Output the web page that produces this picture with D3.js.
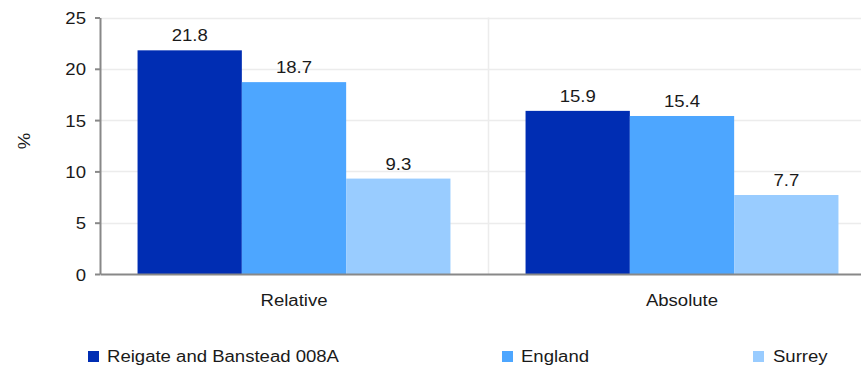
<!DOCTYPE html>
<html>
<head>
<meta charset="utf-8">
<script src="https://cdn.jsdelivr.net/npm/d3@7/dist/d3.min.js"></script>
<style>
  html, body { margin: 0; padding: 0; background: #fff; }
  svg { display: block; }
  text { font-family: "Liberation Sans", Arial, sans-serif; fill: #1a1a1a; }
</style>
</head>
<body>
<svg id="chart" width="861" height="365"></svg>
<script>
const categories = ["Relative", "Absolute"];
const seriesNames = ["Reigate and Banstead 008A", "England", "Surrey"];
const reigateValues = [21.8, 15.9];
const englandValues = [18.7, 15.4];
const surreyValues = [9.3, 7.7];
const yTickValues = [0, 5, 10, 15, 20, 25];
const seriesValues = [reigateValues, englandValues, surreyValues];
const colors = ["#002db3", "#4da6ff", "#99ccff"];

(function () {
const W = 861, H = 365;
const SX = 1.16; // horizontal text stretch
const FS = 16;
const svg = d3.select("#chart");

const mLeft = 100, mRight = 876, mTop = 17.5, mBottom = 274;

const x0 = d3.scaleBand().domain(categories).range([mLeft, mRight]).paddingInner(0).paddingOuter(0);
const x1 = d3.scaleBand().domain(seriesNames).range([0, x0.bandwidth()]).paddingInner(0).paddingOuter(0.36);
const y = d3.scaleLinear().domain([0, 25]).range([mBottom, mTop]);
const color = d3.scaleOrdinal().domain(seriesNames).range(colors);

function stext(g, x, yy, str, anchor) {
  return g.append("text")
    .attr("transform", `translate(${x},${yy}) scale(${SX},1)`)
    .attr("text-anchor", anchor || "middle")
    .style("font-size", FS + "px")
    .text(str);
}

// horizontal gridlines
svg.append("g").selectAll("line").data(yTickValues.filter(d => d > 0)).join("line")
  .attr("x1", mLeft).attr("x2", W)
  .attr("y1", d => Math.round(y(d)) + 0.5).attr("y2", d => Math.round(y(d)) + 0.5)
  .attr("stroke", "#ececec").attr("stroke-width", 1.5);

// vertical separators between categories
svg.append("g").selectAll("line").data(categories.slice(1)).join("line")
  .attr("x1", d => x0(d) + 0.5).attr("x2", d => x0(d) + 0.5)
  .attr("y1", mTop).attr("y2", mBottom)
  .attr("stroke", "#ececec").attr("stroke-width", 1.5);

// bars
const groups = svg.append("g").selectAll("g").data(categories).join("g")
  .attr("transform", d => `translate(${x0(d)},0)`);
groups.each(function(cat, ci) {
  const g = d3.select(this);
  seriesNames.forEach((s, si) => {
    const v = seriesValues[si][ci];
    g.append("rect")
      .attr("x", x1(s)).attr("width", x1.bandwidth())
      .attr("y", y(v)).attr("height", y(0) - y(v))
      .attr("fill", color(s));
  });
});

// value labels
categories.forEach((cat, ci) => {
  seriesNames.forEach((s, si) => {
    const v = seriesValues[si][ci];
    stext(svg, x0(cat) + x1(s) + x1.bandwidth() / 2, y(v) - 9, d3.format(".1f")(v));
  });
});

// y axis
const yAxis = svg.append("g").attr("transform", `translate(${mLeft},0)`)
  .call(d3.axisLeft(y).tickValues(yTickValues).tickSize(5).tickSizeOuter(0).tickFormat(d3.format("d")));
yAxis.select(".domain").attr("stroke", "#888").attr("stroke-width", 2);
yAxis.selectAll(".tick line").attr("stroke", "#888").attr("stroke-width", 2);
yAxis.selectAll(".tick text")
  .attr("x", null).attr("dy", null)
  .attr("transform", `translate(-14,6) scale(${SX},1)`)
  .attr("text-anchor", "end")
  .style("font-size", FS + "px")
  .style("font-family", "'Liberation Sans', Arial, sans-serif")
  .attr("fill", "#1a1a1a");

// x axis
const xAxis = svg.append("g").attr("transform", `translate(0,${mBottom})`)
  .call(d3.axisBottom(x0).tickSize(0).tickSizeOuter(0));
xAxis.select(".domain").attr("stroke", "#888").attr("stroke-width", 2);
xAxis.selectAll(".tick text").remove();
categories.forEach(c => stext(svg, x0(c) + x0.bandwidth() / 2, 306, c));

// y axis title
svg.append("text")
  .attr("transform", `translate(30,141) rotate(-90) scale(${SX},1)`)
  .attr("text-anchor", "middle")
  .style("font-size", FS + "px")
  .text("%");

// legend
const legendSq = [88, 502, 753];
const legendTx = [107, 521, 773];
const legend = svg.append("g");
seriesNames.forEach((s, i) => {
  legend.append("rect").attr("x", legendSq[i]).attr("y", 351).attr("width", 11).attr("height", 11).attr("fill", color(s));
  stext(legend, legendTx[i], 362, s, "start");
});
})();
</script>
</body>
</html>
